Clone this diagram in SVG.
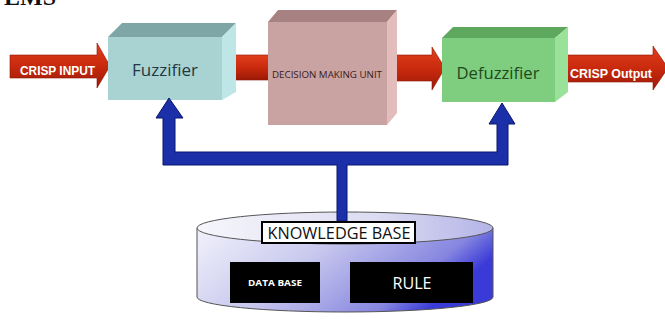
<svg xmlns="http://www.w3.org/2000/svg" width="665" height="323" viewBox="0 0 665 323">
  <defs>
    <linearGradient id="redFlow" x1="0" y1="0" x2="0" y2="1">
      <stop offset="0" stop-color="#e2401c"/>
      <stop offset="0.5" stop-color="#c92a0e"/>
      <stop offset="1" stop-color="#9c1a06"/>
    </linearGradient>
    <linearGradient id="drumBody" x1="0" y1="0" x2="1" y2="0.35">
      <stop offset="0" stop-color="#f2f2fb"/>
      <stop offset="0.45" stop-color="#c8c8ee"/>
      <stop offset="0.85" stop-color="#8686e0"/>
      <stop offset="1" stop-color="#3a3ad8"/>
    </linearGradient>
    <linearGradient id="drumTop" x1="0" y1="0" x2="1" y2="0">
      <stop offset="0" stop-color="#f6f6fc"/>
      <stop offset="0.6" stop-color="#dcdcf2"/>
      <stop offset="1" stop-color="#b4b4e8"/>
    </linearGradient>
    <style>
      .flow { fill: url(#redFlow); stroke: #8a1604; stroke-width: 0.6; }
      .flowText { font-family: "Liberation Sans", Arial, sans-serif; font-weight: bold; fill: #ffffff; }
      .link { fill: #1a2fa8; stroke: #0a1670; stroke-width: 1; stroke-linejoin: miter; }
      .label { font-family: "Open Sans", "Liberation Sans", sans-serif; text-anchor: middle; }
      .panel { fill: #000000; }
      .panelText { font-family: "Open Sans", "Liberation Sans", sans-serif; fill: #ffffff; text-anchor: middle; }
    </style>
  </defs>

  <rect width="665" height="323" fill="#ffffff"/>

  <!-- clipped heading at the top edge -->
  <text x="4" y="5" font-family="'Liberation Serif', serif" font-weight="bold" font-size="24" fill="#111">EMS</text>

  <!-- red data-flow arrows (behind the blocks) -->
  <g id="flows">
    <polygon class="flow" points="10,55 97,55 97,43 110,66 97,88 97,78 10,78"/>
    <rect class="flow" x="230" y="55" width="42" height="25"/>
    <polygon class="flow" points="390,55 432,55 432,47 445,68 432,90 432,81 390,81"/>
    <polygon class="flow" points="550,55 653,55 653,46 668,68 653,90 653,82 550,82"/>
    <text class="flowText" x="20" y="75" font-size="12" textLength="75" lengthAdjust="spacingAndGlyphs">CRISP INPUT</text>
    <text class="flowText" x="570" y="78" font-size="13" textLength="82" lengthAdjust="spacingAndGlyphs">CRISP Output</text>
  </g>

  <!-- Fuzzifier block -->
  <g id="fuzzifier">
    <polygon points="108,37 122,23 236,23 222,37" fill="#7fa6a6"/>
    <polygon points="222,37 236,23 236,92 222,100" fill="#bfe6e6"/>
    <rect x="108" y="37" width="114" height="63" fill="#a9d3d3"/>
    <text class="label" x="165" y="76" font-size="17" fill="#243840" textLength="66" lengthAdjust="spacingAndGlyphs">Fuzzifier</text>
  </g>

  <!-- Decision making unit block -->
  <g id="decision-unit">
    <polygon points="268,22 278,10 397,10 387,22" fill="#a88282"/>
    <polygon points="387,22 397,10 397,113 387,125" fill="#e3bcbc"/>
    <rect x="268" y="22" width="119" height="103" fill="#c9a2a2"/>
    <text class="label" x="327" y="78" font-size="9.5" fill="#3a2020" textLength="110" lengthAdjust="spacingAndGlyphs">DECISION MAKING UNIT</text>
  </g>

  <!-- Defuzzifier block -->
  <g id="defuzzifier">
    <polygon points="442,38 453,27 568,27 555,38" fill="#5ea85e"/>
    <polygon points="555,38 568,27 568,92 555,102" fill="#9ae29a"/>
    <rect x="442" y="38" width="113" height="64" fill="#7fcd7f"/>
    <text class="label" x="498" y="79" font-size="17" fill="#1d4a1d" textLength="83" lengthAdjust="spacingAndGlyphs">Defuzzifier</text>
  </g>

  <!-- Knowledge base drum -->
  <g id="knowledge-base">
    <path d="M197,228 L197,297 A148,15 0 0 0 493,297 L493,228 Z" fill="url(#drumBody)" stroke="#555" stroke-width="1"/>
    <ellipse cx="345" cy="228" rx="148" ry="16" fill="url(#drumTop)" stroke="#555" stroke-width="1"/>
  </g>

  <!-- knowledge feed to fuzzifier and defuzzifier -->
  <g id="connectors">
    <polygon class="link" points="169,98 183,118 175,118 175,152 497,152 497,124 489,124 502,103 515,124 508,124 508,165 347,165 347,221 337,221 337,165 163,165 163,118 156,118"/>
  </g>

  <g id="kb-title">
    <rect x="262" y="222" width="153" height="21" fill="#ffffff" stroke="#000" stroke-width="2"/>
    <text class="label" x="339" y="239" font-size="16" fill="#111" textLength="143" lengthAdjust="spacingAndGlyphs">KNOWLEDGE BASE</text>
  </g>

  <g id="data-base">
    <rect class="panel" x="230" y="262" width="90" height="41"/>
    <text class="panelText" x="275" y="286" font-size="9.5" font-weight="bold" textLength="54" lengthAdjust="spacingAndGlyphs">DATA BASE</text>
  </g>

  <g id="rule">
    <rect class="panel" x="350" y="262" width="123" height="41"/>
    <text class="panelText" x="412" y="289" font-size="17" textLength="39" lengthAdjust="spacingAndGlyphs">RULE</text>
  </g>
</svg>
